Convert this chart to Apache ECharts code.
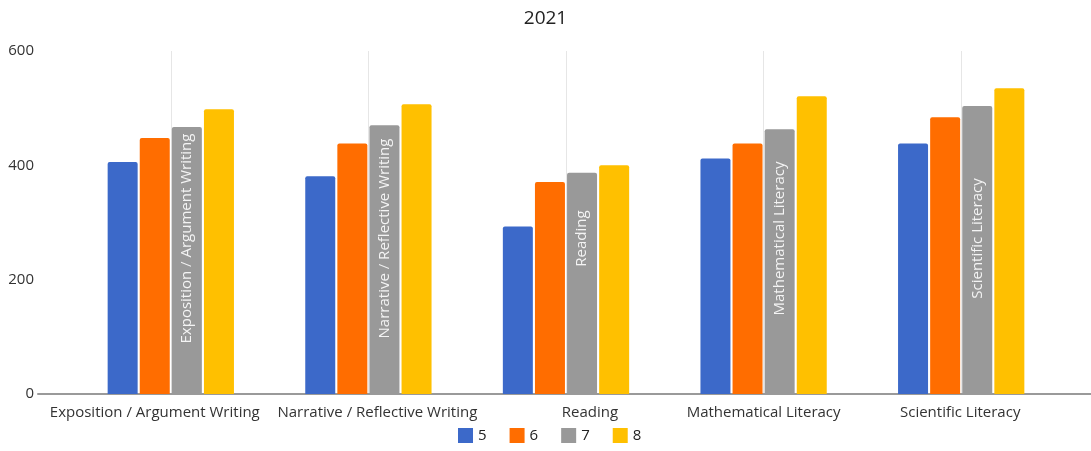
<!DOCTYPE html>
<html>
<head>
<meta charset="utf-8">
<script src="https://cdn.jsdelivr.net/npm/echarts@6/dist/echarts.min.js"></script>
<style>html,body{margin:0;padding:0;background:#fff;}#c{width:1091px;height:451px;}</style>
</head>
<body>
<div id="c"></div>
<script>
const categories = ['Exposition / Argument Writing', 'Narrative / Reflective Writing', 'Reading', 'Mathematical Literacy', 'Scientific Literacy'];
const seriesNames = ['5', '6', '7', '8'];
const grade5 = [406, 381, 293, 412, 438];
const grade6 = [448, 438, 371, 438, 484];
const grade7 = [467, 470, 387, 463, 504];
const grade8 = [498, 507, 400, 521, 535];
const yTicks = [0, 200, 400, 600];
const colors = ['#3c69c9', '#ff6d00', '#999999', '#ffc000'];

// layout settings
const FONT = 'Open Sans';
const GRID_TOP = 51, GRID_BOTTOM = 57, H = 451;
const pxPerUnit = (H - GRID_TOP - GRID_BOTTOM) / (yTicks[yTicks.length - 1] - yTicks[0]);
const LABEL_CENTER_VALUE = 272;
const axisLabelNudge = [-16, 9, 24, 0, -1]; // horizontal px shift of category labels

const chart = echarts.init(document.getElementById('c'));
const values = [grade5, grade6, grade7, grade8];
const gridLineCats = [];
for (let i = 0; i < 11; i++) gridLineCats.push(String(i));

const xCats = categories.map((c, i) => {
  const d = axisLabelNudge[i];
  return {
    value: c,
    textStyle: { padding: d >= 0 ? [0, 0, 0, 2 * d] : [0, -2 * d, 0, 0] }
  };
});

const series = values.map((vals, si) => ({
  name: seriesNames[si],
  type: 'bar',
  xAxisIndex: 0, yAxisIndex: 0,
  barWidth: 30,
  barGap: '7%',
  itemStyle: { color: colors[si], borderRadius: [2, 2, 0, 0] },
  data: si === 2 ? vals.map((v, i) => ({
    value: v,
    label: {
      show: true,
      formatter: categories[i],
      rotate: 90,
      position: 'inside',
      offset: [(LABEL_CENTER_VALUE - v / 2) * pxPerUnit, 0],
      color: '#f4f4f4',
      fontFamily: FONT,
      fontSize: 15
    }
  })) : vals
}));

chart.setOption({
  animation: false,
  textStyle: { fontFamily: FONT },
  title: {
    text: '2021', left: 'center', top: 4,
    textStyle: { fontFamily: FONT, fontSize: 19, fontWeight: 'normal', color: '#222' }
  },
  legend: {
    data: seriesNames,
    bottom: 3, left: 453,
    icon: 'rect', itemWidth: 15, itemHeight: 15, itemGap: 23,
    textStyle: { fontFamily: FONT, fontSize: 15, color: '#222' }
  },
  grid: [
    { left: 72, right: 31, top: GRID_TOP, bottom: GRID_BOTTOM },
    { left: 38, right: 0, top: GRID_TOP, bottom: GRID_BOTTOM }
  ],
  xAxis: [
    {
      type: 'category', gridIndex: 0, data: xCats,
      axisLine: { show: false }, axisTick: { show: false },
      axisLabel: { fontFamily: FONT, fontSize: 15, color: '#333', margin: 11, interval: 0 }
    },
    {
      type: 'category', gridIndex: 0, data: gridLineCats, boundaryGap: false, position: 'bottom',
      axisLine: { show: false }, axisTick: { show: false }, axisLabel: { show: false },
      splitLine: { show: true, interval: (idx) => idx % 2 === 1, lineStyle: { color: '#e6e6e6', width: 1 } }
    },
    {
      type: 'value', gridIndex: 1, min: 0, max: 1,
      axisLine: { show: true, lineStyle: { color: '#9a9a9a', width: 2 } },
      axisTick: { show: false }, axisLabel: { show: false }, splitLine: { show: false }
    }
  ],
  yAxis: [
    {
      type: 'value', gridIndex: 0, min: yTicks[0], max: yTicks[yTicks.length - 1], interval: 200,
      axisLine: { show: false }, axisTick: { show: false }, splitLine: { show: false },
      axisLabel: { fontFamily: FONT, fontSize: 15, color: '#333', margin: 38 }
    },
    { type: 'value', gridIndex: 1, show: false, min: 0, max: 1 }
  ],
  series: series
});
</script>
</body>
</html>
